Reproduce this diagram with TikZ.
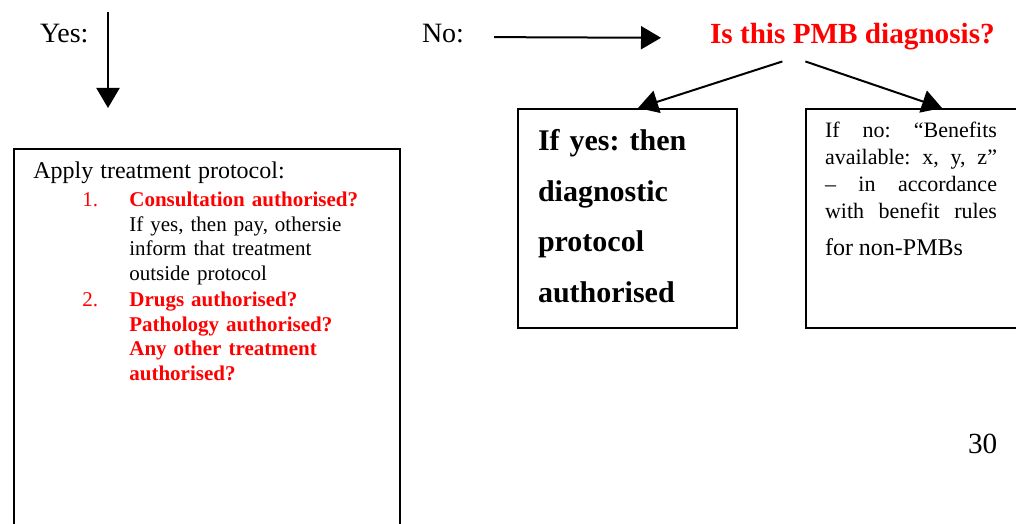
\documentclass[tikz,border=0pt]{standalone}
\usepackage{fontspec}
\setmainfont{Liberation Serif}
\usetikzlibrary{arrows.meta,positioning}
\frenchspacing

\begin{document}
\begin{tikzpicture}[x=0.5pt,y=-0.5pt,
   box/.style={draw,line width=1pt,inner sep=0pt,anchor=north west},
   txt/.style={inner sep=0pt,outer sep=0pt},
   arr/.style={line width=1pt,-{Triangle[length=10pt,width=11.5pt]}}]
   \useasboundingbox (0,0) rectangle (1016,524);
   \clip (0,0) rectangle (1016,524);
   \node[txt,anchor=base west,font=\fontsize{14}{17}\selectfont] (yes) at (40,43) {Yes:};
   \node[txt,anchor=base west,font=\fontsize{14}{17}\selectfont] (no) at (422,43) {No:};
   \node[txt,anchor=base west,text=red,font=\fontsize{14.6}{17}\selectfont\bfseries] (title) at (710,44) {Is this PMB diagnosis?};
   \coordinate (yesfrom) at (108,12);
   \coordinate (yesto) at (108,108);
   \node[box,minimum width=193pt,minimum height=210pt] (protocol) at (13,148) {};
   \node[box,minimum width=109.5pt,minimum height=109.5pt] (diag) at (517,108) {};
   \node[box,minimum width=108pt,minimum height=109.5pt] (nonpmb) at (805,108) {};
   \node[txt,anchor=north west,text width=175pt,align=left,
         font=\fontsize{10.5}{12.25}\selectfont,
         below right=7.15pt and 10.2pt of protocol.north west] (steps) {%
      {\fontsize{12}{14}\selectfont Apply treatment protocol:\par}%
      \vspace{1.75pt}\leftskip=48pt
      \noindent\llap{\makebox[23.5pt][l]{\color{red}1.}}{\color{red}\bfseries Consultation authorised?}\\
      If yes, then pay, othersie\\ inform that treatment\\ outside protocol\par
      \vspace{1pt}
      \noindent\llap{\makebox[23.5pt][l]{\color{red}2.}}{\color{red}\bfseries Drugs authorised?\\
      Pathology authorised?\\ Any other treatment\\ authorised?}\par};
   \node[txt,anchor=north west,text width=95pt,align=left,
         font=\fontsize{15}{25.3}\selectfont\bfseries,
         below right=10.65pt and 10.5pt of diag.north west] (diagtext)
         {If yes: then\\ diagnostic\\ protocol\\ authorised};
   \node[txt,anchor=north west,text width=86pt,align=justify,
         font=\fontsize{11}{13.5}\selectfont,
         below right=7pt and 10pt of nonpmb.north west] (nonpmbtext) {%
      If no: “Benefits\linebreak available: x, y, z”\linebreak
      – in accordance\linebreak with benefit rules{\parfillskip=0pt\par}
      {\fontsize{12}{18.5}\selectfont for non-PMBs\par}};
   \node[txt,anchor=base west,font=\fontsize{14.6}{17}\selectfont] (page) at (968,453) {30};
   \draw[arr] (yesfrom) -- (yesto);
   \draw[arr,shorten <=15pt,shorten >=24.5pt] ([yshift=3pt]no.base east) -- ([yshift=3pt]title.base west);
   \draw[arr] ([xshift=-35pt,yshift=-5.5pt]title.south) -- ([xshift=60.5pt]diag.north west);
   \draw[arr] ([xshift=-23.5pt,yshift=-5.5pt]title.south) -- ([xshift=68.5pt]nonpmb.north west);
\end{tikzpicture}
\end{document}
